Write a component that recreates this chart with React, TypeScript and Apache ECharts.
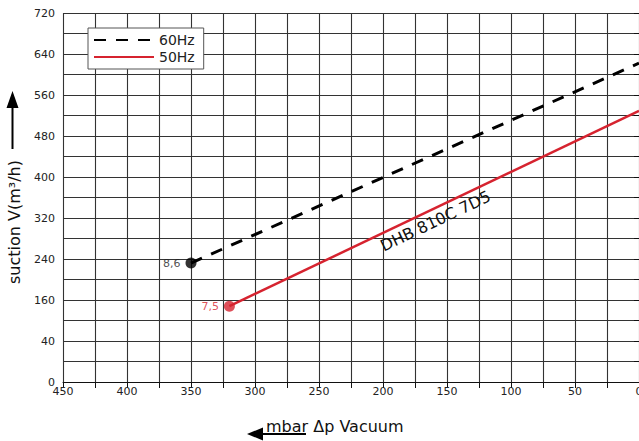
import React, { useEffect, useRef } from "react";
import * as echarts from "echarts";

const seriesNames = ["60Hz", "50Hz"];
const pressure60 = [350, 0];
const flow60 = [232, 622];
const pressure50 = [320, 0];
const flow50 = [148, 529];
const startLabels = ["8,6", "7,5"];
const yTickValues = [0, 80, 160, 240, 320, 400, 480, 560, 640, 720];
const yTickTexts = ["0", "40", "160", "240", "320", "400", "480", "560", "640", "720"];
const curveName = "DHB 810C 7D5";
const curveLabelCoord = [159, 314];

const FONT = "DejaVu Sans";

export default function App() {
  const ref = useRef<HTMLDivElement>(null);
  useEffect(() => {
    if (!ref.current) return;
    const chart = echarts.init(ref.current, undefined, { renderer: "svg" });
    const gridColor = "#333333";
    const line60 = pressure60.map((p, i) => [p, flow60[i]]);
    const line50 = pressure50.map((p, i) => [p, flow50[i]]);
    chart.setOption({
      animation: false,
      backgroundColor: "#ffffff",
      textStyle: { fontFamily: FONT },
      grid: { left: 63, right: 0, top: 13, bottom: 59, containLabel: false, outerBoundsMode: "none" },
      xAxis: {
        type: "value",
        inverse: true,
        min: 0,
        max: 450,
        interval: 25,
        axisLine: { show: true, lineStyle: { color: "#111", width: 1 } },
        axisTick: { show: true, length: 6, lineStyle: { color: "#111", width: 1 } },
        axisLabel: {
          fontFamily: FONT,
          fontSize: 11,
          color: "#222",
          margin: 4,
          formatter: (v: number) => (v % 50 === 0 ? String(v) : ""),
        },
        splitLine: { show: true, lineStyle: { color: gridColor, width: 1.1 } },
      },
      yAxis: {
        type: "value",
        min: 0,
        max: 720,
        interval: 40,
        axisLine: { show: true, lineStyle: { color: "#111", width: 1 } },
        axisTick: { show: true, length: 5, lineStyle: { color: "#111", width: 1 } },
        axisLabel: {
          fontFamily: FONT,
          fontSize: 11,
          color: "#222",
          margin: 8,
          formatter: (v: number) => {
            const idx = yTickValues.indexOf(v);
            return idx >= 0 ? yTickTexts[idx] : "";
          },
        },
        splitLine: { show: true, lineStyle: { color: gridColor, width: 1.1 } },
      },
      legend: {
        left: 88,
        top: 28,
        orient: "vertical",
        data: seriesNames,
        backgroundColor: "#ffffff",
        borderColor: "#555",
        borderWidth: 1,
        borderRadius: 0,
        padding: [5, 9, 5, 5],
        itemWidth: 60,
        itemHeight: 13,
        itemGap: 3,
        itemStyle: { opacity: 0 },
        textStyle: { fontFamily: FONT, fontSize: 14, color: "#222" },
      },
      series: [
        {
          name: seriesNames[0],
          type: "line",
          data: line60,
          symbol: "none",
          lineStyle: { color: "#000", width: 3, type: [12, 10] },
          itemStyle: { color: "#000" },
          z: 3,
        },
        {
          name: seriesNames[1],
          type: "line",
          data: line50,
          symbol: "none",
          lineStyle: { color: "#d6232f", width: 2.5, type: "solid" },
          itemStyle: { color: "#d6232f" },
          z: 3,
          markPoint: {
            symbol: "circle",
            symbolSize: 1,
            itemStyle: { color: "rgba(0,0,0,0)" },
            label: {
              show: true,
              position: "inside",
              formatter: curveName,
              rotate: 25.5,
              fontFamily: FONT,
              fontSize: 16,
              color: "#111",
            },
            data: [{ coord: curveLabelCoord }],
          },
        },
        {
          type: "scatter",
          data: [line60[0]],
          symbol: "circle",
          symbolSize: 11,
          itemStyle: { color: "#000" },
          label: {
            show: true,
            position: "left",
            distance: 5,
            formatter: startLabels[0],
            fontFamily: FONT,
            fontSize: 11,
            color: "#222",
          },
          z: 4,
        },
        {
          type: "scatter",
          data: [line50[0]],
          symbol: "circle",
          symbolSize: 11,
          itemStyle: { color: "#d6232f" },
          label: {
            show: true,
            position: "left",
            distance: 5,
            formatter: startLabels[1],
            fontFamily: FONT,
            fontSize: 11,
            color: "#d6232f",
          },
          z: 4,
        },
      ],
      graphic: [
        {
          type: "text",
          x: 14,
          y: 222,
          rotation: Math.PI / 2,
          style: {
            text: "suction V(m³/h)",
            fontFamily: FONT,
            fontSize: 16,
            fill: "#111",
            align: "center",
            verticalAlign: "middle",
          },
        },
        {
          type: "line",
          shape: { x1: 12.5, y1: 149, x2: 12.5, y2: 104 },
          style: { stroke: "#000", lineWidth: 2 },
        },
        {
          type: "polygon",
          shape: { points: [[12.5, 91], [6.5, 108], [18.5, 108]] },
          style: { fill: "#000" },
        },
        {
          type: "text",
          x: 266,
          y: 426,
          style: {
            text: "mbar Δp Vacuum",
            fontFamily: FONT,
            fontSize: 16,
            fill: "#111",
            align: "left",
            verticalAlign: "middle",
          },
        },
        {
          type: "line",
          shape: { x1: 258, y1: 434, x2: 306, y2: 434 },
          style: { stroke: "#000", lineWidth: 2 },
        },
        {
          type: "polygon",
          shape: { points: [[247, 434], [263, 427.5], [263, 440.5]] },
          style: { fill: "#000" },
        },
      ],
    });
    return () => chart.dispose();
  }, []);
  return (
    <div
      ref={ref}
      style={{ position: "fixed", left: 0, top: 0, width: 639, height: 441 }}
    />
  );
}
